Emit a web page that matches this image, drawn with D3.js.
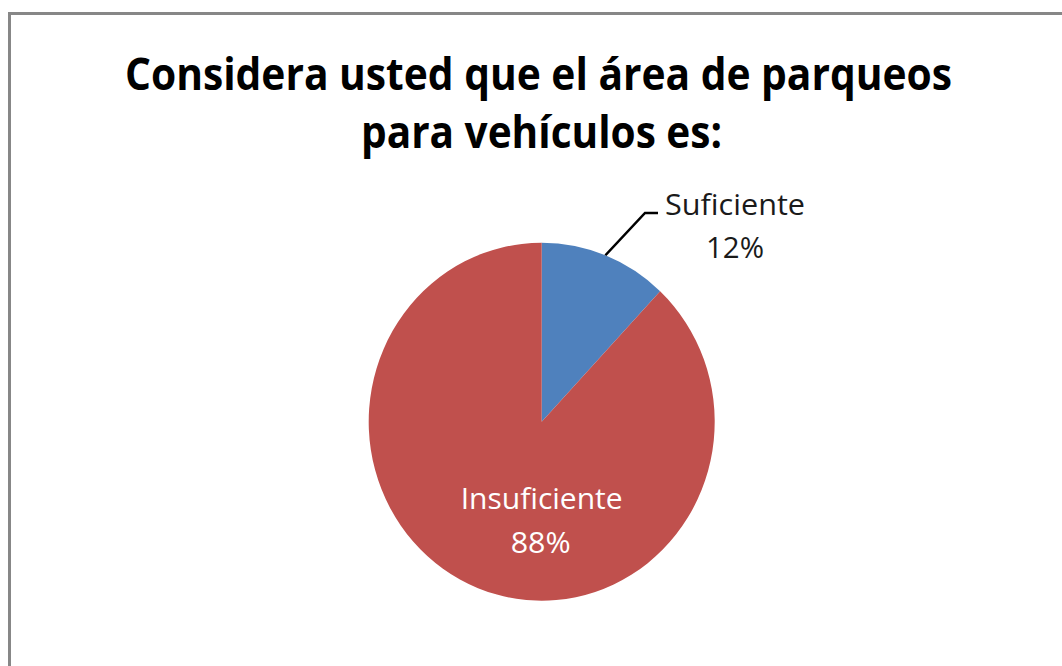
<!DOCTYPE html>
<html>
<head>
<meta charset="utf-8">
<script src="https://cdn.jsdelivr.net/npm/d3@7"></script>
<style>
  html, body { margin: 0; padding: 0; background: #fff; }
  svg { display: block; }
</style>
</head>
<body>
<script>
const categories = ["Suficiente", "Insuficiente"];
const values = [12, 88];
const percentLabels = ["12%", "88%"];
const titleLines = ["Considera usted que el área de parqueos", "para vehículos es:"];
const colors = ["#4F81BD", "#C0504D"];

const W = 1062, H = 666;
const svg = d3.select("body").append("svg").attr("width", W).attr("height", H);

// outer chart border
svg.append("rect")
  .attr("x", 9.5).attr("y", 13.5)
  .attr("width", W + 20).attr("height", H + 20)
  .attr("fill", "#fff").attr("stroke", "#878787").attr("stroke-width", 3);

const FONT = "'Open Sans', 'Liberation Sans', sans-serif";

// title
const titleSpecs = [
  { cx: 538.5, y: 90, len: 827 },
  { cx: 541.5, y: 148, len: 361 }
];
titleLines.forEach((t, i) => {
  svg.append("text")
    .attr("x", titleSpecs[i].cx).attr("y", titleSpecs[i].y)
    .attr("text-anchor", "middle")
    .attr("font-family", FONT).attr("font-weight", "bold")
    .attr("font-size", 44)
    .attr("textLength", titleSpecs[i].len)
    .attr("lengthAdjust", "spacingAndGlyphs")
    .attr("fill", "#000")
    .text(t);
});

// pie
const cx = 541.7, cy = 421.7, R = 179, sx = 173 / 179;
const pie = d3.pie().sort(null).value(d => d)(values);
const arc = d3.arc().innerRadius(0).outerRadius(R);
const g = svg.append("g").attr("transform", `translate(${cx},${cy})`);
const pg = g.append("g").attr("transform", `scale(${sx},1)`);
pg.selectAll("path").data(pie).enter().append("path")
  .attr("d", arc)
  .attr("fill", (d, i) => colors[i]);

// leader line for Suficiente
const p0 = pie[0];
const mid = (p0.startAngle + p0.endAngle) / 2;
const ex = Math.sin(mid) * R * sx, ey = -Math.cos(mid) * R;
const elbow = [645 - cx, 213 - cy];
const endP = [658 - cx, 213 - cy];
g.append("path")
  .attr("d", d3.line()([[ex, ey], elbow, endP]))
  .attr("fill", "none").attr("stroke", "#000").attr("stroke-width", 2.5);

// labels
function label(text, x, y, len, color) {
  svg.append("text")
    .attr("x", x).attr("y", y)
    .attr("text-anchor", "middle")
    .attr("font-family", FONT)
    .attr("font-size", 30)
    .attr("textLength", len)
    .attr("lengthAdjust", "spacingAndGlyphs")
    .attr("fill", color)
    .text(text);
}
label(categories[0], 735, 215, 140, "#1a1a1a");
label(percentLabels[0], 735, 258, 58, "#1a1a1a");
label(categories[1], 541.7, 509, 162, "#fff");
label(percentLabels[1], 540.7, 553, 60, "#fff");
</script>
</body>
</html>
